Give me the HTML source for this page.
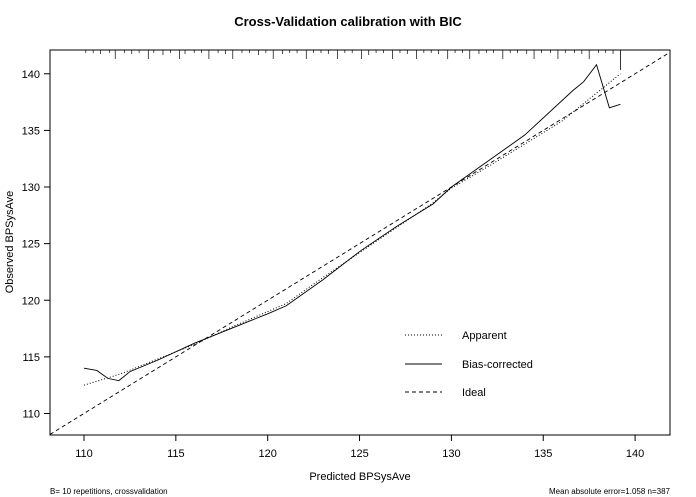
<!DOCTYPE html>
<html><head><meta charset="utf-8"><style>
body{margin:0;background:#fff;}
svg{display:block;font-family:"Liberation Sans",Arial,sans-serif;}
</style></head><body>
<svg id="c" width="696" height="497"></svg>
<script>
const xTicks=[110,115,120,125,130,135,140];
const yTicks=[110,115,120,125,130,135,140];
const appX=[110,112,114,116,118,120,121,123,125,127,129,130,132,134,136,139.2];
const appY=[112.5,113.5,114.8,116.1,117.6,119,119.7,122,124.2,126.4,128.6,129.9,131.8,133.8,135.8,140];
const biasX=[110,110.7,111.3,111.9,112.5,114,116,118,120,121,123,125,127,129,130,132,134,136.6,137.2,137.9,138.6,139.2];
const biasY=[114,113.8,113.1,112.9,113.7,114.7,116.2,117.5,118.8,119.5,121.8,124.3,126.5,128.5,130,132.3,134.6,138.5,139.3,140.8,137,137.3];
const rugX=[110.1,110.5,110.9,111.4,111.7,112.2,112.6,113,113.5,113.8,114.3,114.7,115.2,115.5,116,116.4,116.8,117.3,117.7,118.1,118.6,119,119.5,119.9,120.3,120.8,121.2,121.6,122.1,122.5,122.9,123.3,123.8,124.2,124.6,125.1,125.5,125.9,126.3,126.8,127.2,127.6,128.1,128.5,128.9,129.3,129.8,130.2,130.6,131,131.5,131.9,132.3,132.8,133.2,133.6,134.1,134.5,134.9,135.4,135.8,136.2,136.7,137.1,137.5,138,138.4,138.8];
const rugH=[3,3,4,3,9,3,4,3,9,3,5,3,9,4,3,3,9,3,4,9,3,3,5,3,9,4,3,3,9,3,3,4,9,3,3,9,5,3,3,9,3,4,9,3,3,4,9,3,3,9,4,3,3,9,3,3,4,9,3,3,9,3,3,4,9,3,3,4];
const svg=document.getElementById('c');
const NS='http://www.w3.org/2000/svg';
const L=50,R=670,T=50,B=435,x0=108.15,x1=141.9,y0=108.1,y1=142.1;
const sx=v=>L+(v-x0)/(x1-x0)*(R-L);
const sy=v=>B-(v-y0)/(y1-y0)*(B-T);
function el(t,a,p){const e=document.createElementNS(NS,t);for(const k in a)e.setAttribute(k,a[k]);(p||svg).appendChild(e);return e;}
function txt(s,a){const e=el('text',a);e.textContent=s;return e;}
let e;
e=txt('Cross-Validation calibration with BIC',{x:348,y:26,'text-anchor':'middle','font-size':13,'font-weight':'bold'});

e=el('rect',{x:L,y:T,width:R-L,height:B-T,fill:'none',stroke:'#000','stroke-width':1});

xTicks.forEach(v=>{
  e=el('line',{x1:sx(v),x2:sx(v),y1:B,y2:B+6,stroke:'#000'});
  
  e=txt(v,{x:sx(v),y:B+22,'text-anchor':'middle','font-size':11});
  
});
yTicks.forEach(v=>{
  e=el('line',{x1:L-6,x2:L,y1:sy(v),y2:sy(v),stroke:'#000'});
  
  e=txt(v,{x:L-10,y:sy(v)+4,'text-anchor':'end','font-size':11});
  
});
e=txt('Predicted BPSysAve',{x:360,y:480,'text-anchor':'middle','font-size':11});

e=txt('Observed BPSysAve',{x:0,y:0,'text-anchor':'middle','font-size':11,transform:'translate(13,242) rotate(-90)'});

e=txt('B= 10 repetitions, crossvalidation',{x:50,y:494,'font-size':8});

e=txt('Mean absolute error=1.058 n=387',{x:670,y:494,'font-size':8,'text-anchor':'end'});

rugX.forEach((v,i)=>{
  e=el('line',{x1:sx(v),x2:sx(v),y1:T,y2:T+rugH[i],stroke:'#000','stroke-width':0.7});
  
});
e=el('line',{x1:sx(139.2),x2:sx(139.2),y1:T,y2:T+20,stroke:'#000','stroke-width':0.8});

const clip=el('clipPath',{id:'cl'});el('rect',{x:L,y:T,width:R-L,height:B-T},clip);
e=el('line',{x1:sx(x0),y1:sy(x0),x2:sx(x1),y2:sy(x1),stroke:'#000','stroke-dasharray':'4,3','stroke-width':0.9,'clip-path':'url(#cl)'});

const pts=(X,Y)=>X.map((v,i)=>sx(v)+','+sy(Y[i])).join(' ');
e=el('polyline',{points:pts(appX,appY),fill:'none',stroke:'#000','stroke-dasharray':'1,2','stroke-width':1});

e=el('polyline',{points:pts(biasX,biasY),fill:'none',stroke:'#000','stroke-width':0.9});

[['Apparent','1,2',335],['Bias-corrected','',364],['Ideal','4,3',392]].forEach(r=>{
  e=el('line',{x1:405,x2:442,y1:r[2],y2:r[2],stroke:'#000','stroke-dasharray':r[1]||'none','stroke-width':0.9});
  
  e=txt(r[0],{x:462,y:r[2]+4,'font-size':11});
  
});
</script>
</body></html>
